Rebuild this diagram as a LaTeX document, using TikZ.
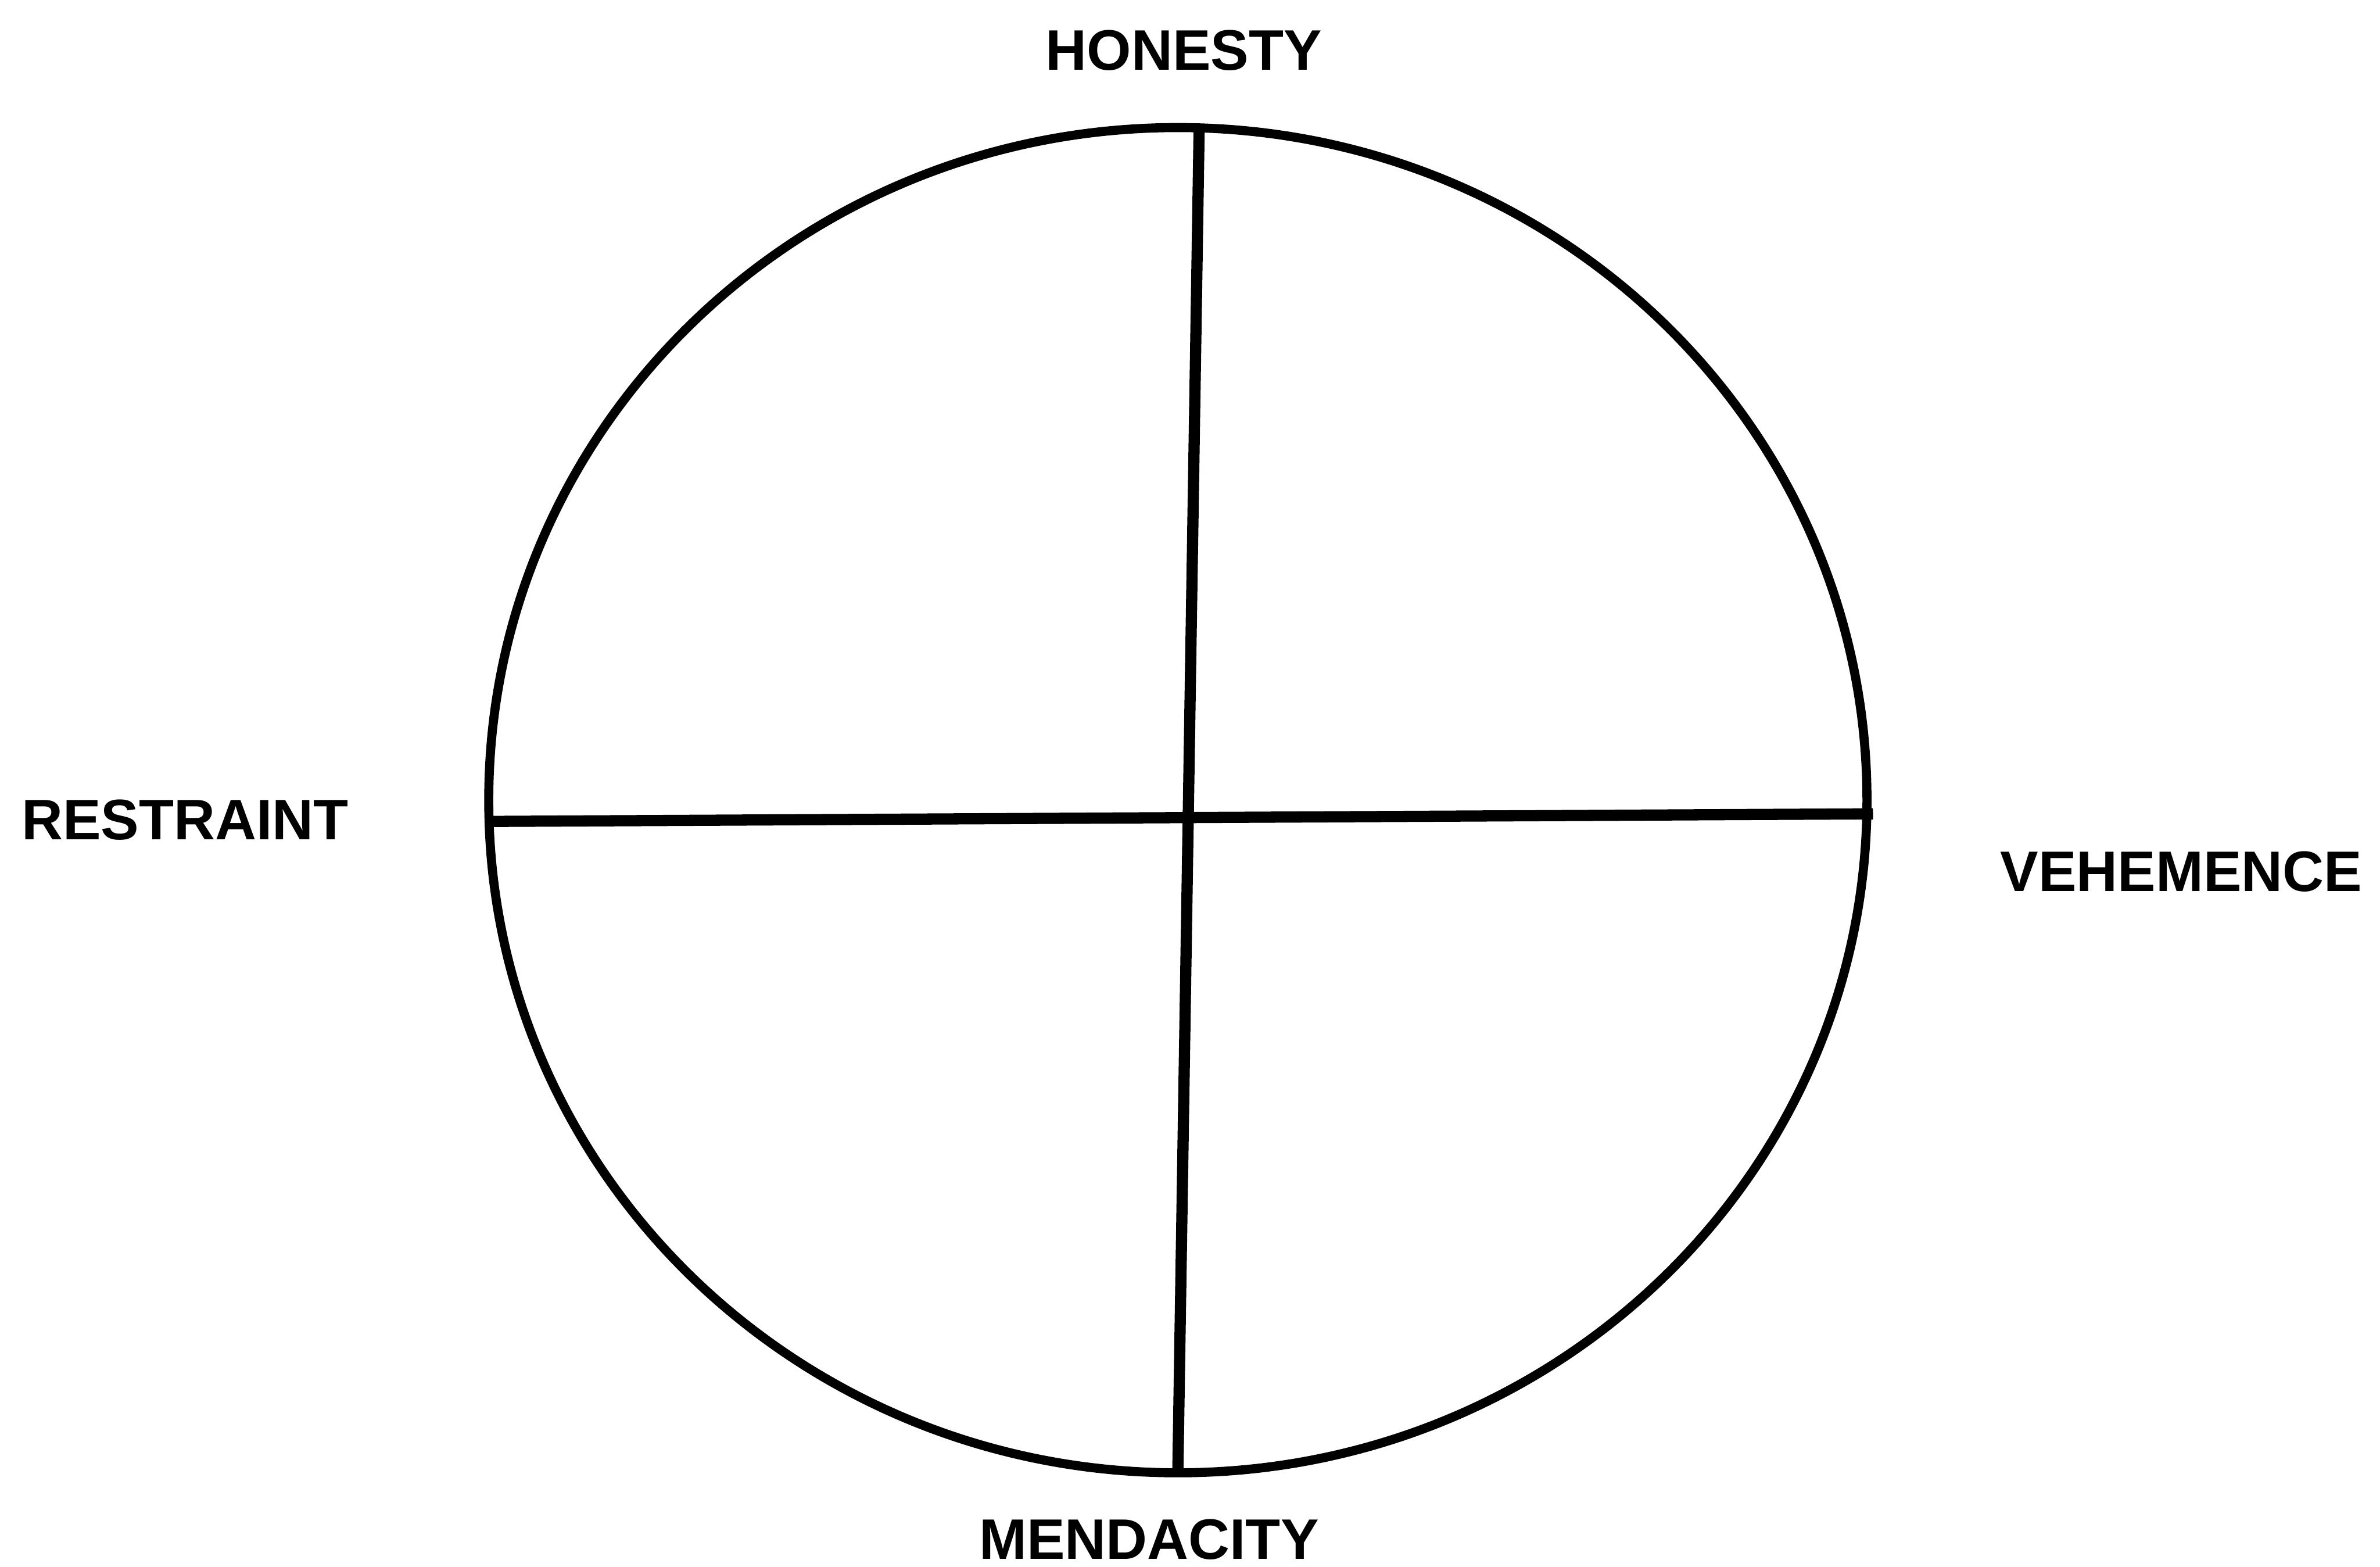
\documentclass[tikz,border=0pt]{standalone}
\usepackage{fontspec}
\setmainfont{Liberation Sans}
\usepackage{tikz}
\usetikzlibrary{positioning,calc}
\tikzset{
  axislabel/.style={inner sep=0pt,font=\fontsize{10.7pt}{12pt}\selectfont\bfseries},
  rimline/.style={draw=black,line width=1.7pt},
  axisline/.style={draw=black,line width=2.1pt}
}

\begin{document}
\begin{tikzpicture}[x=0.01cm,y=-0.01cm]
  \useasboundingbox (0,0) rectangle (1568,1032);

  \draw[rimline] (776,527) ellipse [x radius=454,y radius=443];

  \coordinate (top) at (790,86);
  \coordinate (bot) at (776,969);
  \coordinate (lft) at (324,541);
  \coordinate (rgt) at (1234,536);

  \draw[axisline] (top) -- (bot);
  \draw[axisline] (lft) -- (rgt);

  \node[axislabel] (honesty) at (780,33) {HONESTY};
  \node[axislabel] (restraint) at (122,540) {RESTRAINT};
  \node[axislabel] (vehemence) at (1437,574) {VEHEMENCE};
  \node[axislabel] (mendacity) at (757,1014) {MENDACITY};
\end{tikzpicture}
\end{document}
